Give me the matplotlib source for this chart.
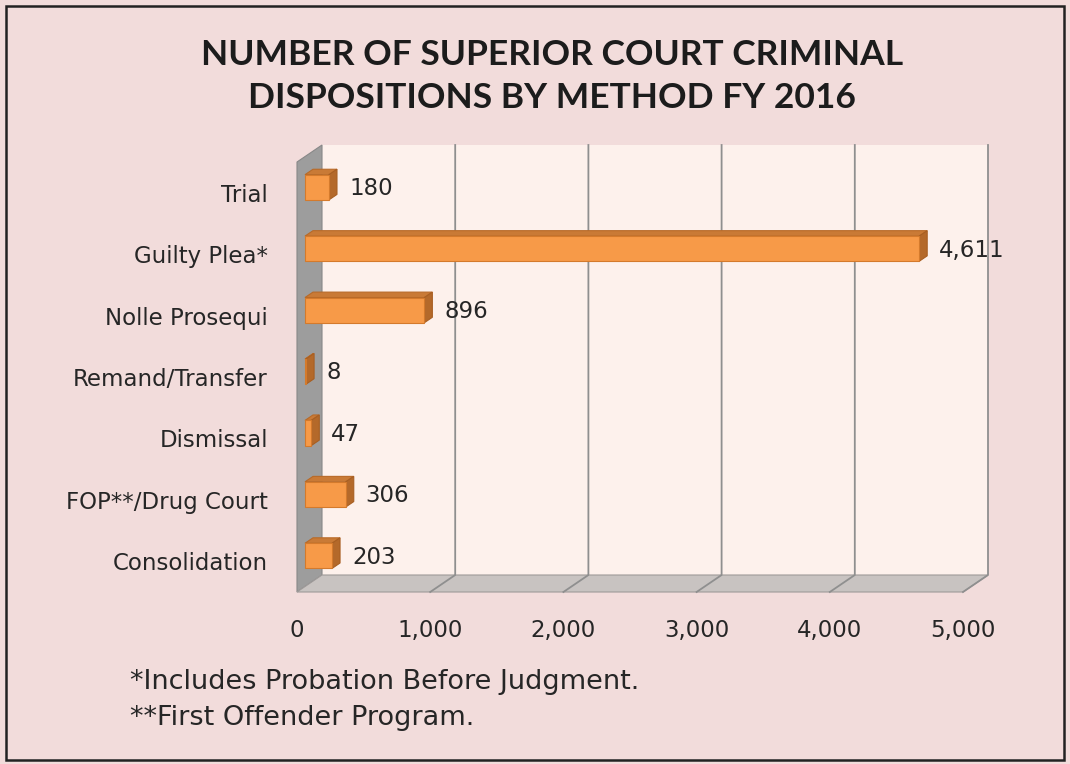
import matplotlib
matplotlib.use('Agg')
import matplotlib.pyplot as plt
from matplotlib.patches import Polygon, Rectangle
from matplotlib.transforms import IdentityTransform, ScaledTranslation

categories = ['Trial', 'Guilty Plea*', 'Nolle Prosequi', 'Remand/Transfer',
              'Dismissal', 'FOP**/Drug Court', 'Consolidation']
values = [180, 4611, 896, 8, 47, 306, 203]
x_ticks = [0, 1000, 2000, 3000, 4000, 5000]
title_lines = ['NUMBER OF SUPERIOR COURT CRIMINAL', 'DISPOSITIONS BY METHOD FY 2016']
footnotes = ['*Includes Probation Before Judgment.', '**First Offender Program.']

plt.rcParams['font.family'] = ['DejaVu Sans']
W, H = 1070, 764
BG = '#f2dcdb'
TXT = '#262626'

fig = plt.figure(figsize=(W / 100, H / 100), dpi=100, facecolor=BG)
# axes = back wall of the 3-d box
ax = fig.add_axes([322 / W, 1 - 575 / H, (988 - 322) / W, (575 - 145) / H])
ax.set_xlim(0, 5000)
ax.set_ylim(len(categories) - 0.5, -0.5)
ax.set_facecolor('#fdf1ec')
for s in ax.spines.values():
    s.set_visible(False)

# depth offset (pixels) from back wall to front plane
DX, DY = -25, -17


def px(x, y, d):
    p = ax.transData.transform((x, y))
    return (p[0] + DX * d, p[1] + DY * d)


def face(pts, color, ec=None, z=2, lw=0.8):
    ax.add_patch(Polygon(pts, closed=True, facecolor=color, edgecolor=ec or color,
                         lw=lw, transform=IdentityTransform(), clip_on=False, zorder=z))


ytop, ybot = -0.5, len(categories) - 0.5
xmax = x_ticks[-1]

# left wall and floor
face([px(0, ytop, 0), px(0, ybot, 0), px(0, ybot, 1), px(0, ytop, 1)], '#9d9d9d', '#888888', z=1)
face([px(0, ybot, 0), px(xmax, ybot, 0), px(xmax, ybot, 1), px(0, ybot, 1)], '#c8c3c1', '#9e9a99', z=1)

# gridlines on wall and floor
for t in x_ticks[1:]:
    a, b = px(t, ytop, 0), px(t, ybot, 0)
    c = px(t, ybot, 1)
    ax.plot([a[0], b[0], c[0]], [a[1], b[1], c[1]], color='#8f8f8f', lw=1.3,
            transform=IdentityTransform(), clip_on=False, zorder=1.5)

# bars
bh = 0.41
df, db = 0.68, 0.36
for i, v in enumerate(values):
    y0, y1 = i - bh / 2, i + bh / 2
    face([px(0, y0, df), px(v, y0, df), px(v, y0, db), px(0, y0, db)], '#c97a36', '#b86a28', z=3)
    face([px(v, y0, df), px(v, y1, df), px(v, y1, db), px(v, y0, db)], '#b4692a', '#a85f22', z=3)
    face([px(0, y0, df), px(v, y0, df), px(v, y1, df), px(0, y1, df)], '#f79a48', '#d47a2c', z=4)
    ax.annotate(f'{v:,}', xy=(v, i), xytext=(3, -13), textcoords='offset pixels',
                ha='left', va='center', fontsize=16.5, color=TXT, zorder=5)

# axes ticks
ax.set_xticks(x_ticks)
ax.set_xticklabels([f'{t:,}' for t in x_ticks], fontsize=16.5)
ax.set_yticks(range(len(categories)))
ax.set_yticklabels(categories, fontsize=16.5)
ax.tick_params(axis='both', length=0, labelcolor=TXT)
ax.tick_params(axis='x', pad=32)
ax.tick_params(axis='y', pad=39)
for lab in ax.get_xticklabels():
    lab.set_transform(lab.get_transform() + ScaledTranslation(DX / 100, 0, fig.dpi_scale_trans))
for lab in ax.get_yticklabels():
    lab.set_transform(lab.get_transform() + ScaledTranslation(0, -17 / 100, fig.dpi_scale_trans))

# title and notes
for k, line in enumerate(title_lines):
    fig.text(552 / W, 1 - (55 + 43 * k) / H, line, ha='center', va='center', fontsize=25.5,
             fontweight='bold', color='#1c1c1c', family=['Lato', 'DejaVu Sans'])
for k, note in enumerate(footnotes):
    fig.text(130 / W, 1 - (682 + 36 * k) / H, note, ha='left', va='center', fontsize=19.5,
             color=TXT)

# outer border
fig.add_artist(Rectangle((6 / W, 4 / H), 1058 / W, 754 / H, transform=fig.transFigure,
                         fill=False, edgecolor='#222222', lw=1.8))

fig.savefig('out.png', dpi=100, facecolor=BG)
